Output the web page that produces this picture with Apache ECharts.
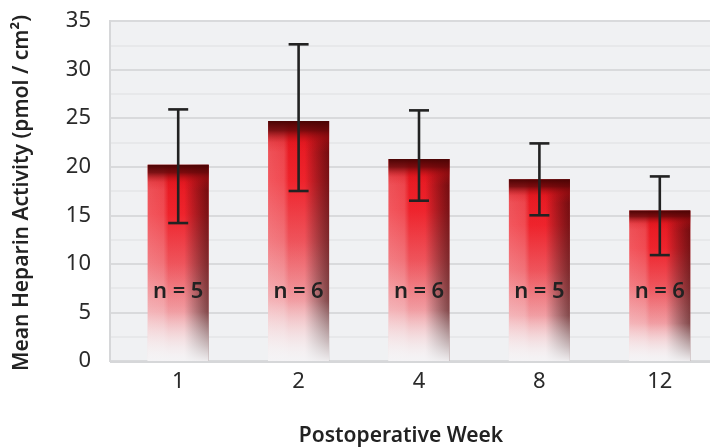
<!DOCTYPE html>
<html>
<head>
<meta charset="utf-8">
<script src="https://cdn.jsdelivr.net/npm/echarts@6/dist/echarts.min.js"></script>
<style>html,body{margin:0;padding:0;background:#fff;overflow:hidden;width:710px;height:448px}#c{width:720px;height:448px}</style>
</head>
<body>
<div id="c"></div>
<script>
const categories = ['1', '2', '4', '8', '12'];
const means = [20.2, 24.7, 20.8, 18.7, 15.5];
const errUpper = [25.9, 32.6, 25.8, 22.4, 19.0];
const errLower = [14.2, 17.5, 16.5, 15.0, 10.9];
const nLabels = ['n\u2005=\u20055', 'n\u2005=\u20056', 'n\u2005=\u20056', 'n\u2005=\u20055', 'n\u2005=\u20056'];
const yTicks = [0, 5, 10, 15, 20, 25, 30, 35];
const yTitle = 'Mean Heparin Activity (pmol / cm²)';
const xTitle = 'Postoperative Week';

const FONT = '"Noto Sans", sans-serif';
const chart = echarts.init(document.getElementById('c'), null, {renderer: 'canvas'});

const lg = (x, y, x2, y2, stops) => new echarts.graphic.LinearGradient(x, y, x2, y2, stops);

const barBase = {
  type: 'bar', data: means, barWidth: 61, barGap: '-100%', silent: true, xAxisIndex: 0, yAxisIndex: 0
};

const option = {
  animation: false,
  grid: [
    {left: 118, right: 0, top: 21, bottom: 87},
    {left: 110, right: 0, top: 21, bottom: 87, show: true, backgroundColor: '#f0f1f3', borderWidth: 0, z: -1}
  ],
  graphic: [
    {type: 'line', z: 10, shape: {x1: 110, y1: 20, x2: 110, y2: 362}, style: {stroke: '#d6d7d9', lineWidth: 2}},
    {type: 'line', z: 10, shape: {x1: 110, y1: 362, x2: 720, y2: 362}, style: {stroke: '#d6d7d9', lineWidth: 2}},
    {type: 'text', rotation: Math.PI / 2, x: 22, y: 193,
     style: {text: yTitle, font: '600 21px ' + FONT, fill: '#222', textAlign: 'center', textVerticalAlign: 'middle'}},
    {type: 'text', x: 401, y: 436,
     style: {text: xTitle, font: '600 21px ' + FONT, fill: '#222', textAlign: 'center', textVerticalAlign: 'middle'}}
  ],
  xAxis: [
    {
      type: 'category', data: categories, gridIndex: 0,
      axisLine: {show: false}, axisTick: {show: false},
      axisLabel: {fontSize: 22, color: '#2a2a2a', margin: 10, fontFamily: FONT}
    },
    {type: 'value', gridIndex: 1, show: false, splitLine: {show: false}}
  ],
  yAxis: [
    {
      type: 'value', min: 0, max: 35, interval: 5, gridIndex: 0,
      axisLine: {show: false}, axisTick: {show: false},
      axisLabel: {fontSize: 22, color: '#2a2a2a', margin: 27, fontFamily: FONT,
        formatter: v => yTicks.includes(v) ? String(v) : ''},
      splitLine: {show: false}
    },
    {
      type: 'value', min: 0, max: 35, interval: 5, gridIndex: 1,
      axisLine: {show: false}, axisTick: {show: false}, axisLabel: {show: false},
      splitLine: {lineStyle: {color: '#d9dadc', width: 2}},
      minorTick: {show: false, splitNumber: 2},
      minorSplitLine: {show: true, lineStyle: {color: '#e4e5e7', width: 1.5}}
    }
  ],
  series: [
    Object.assign({}, barBase, {
      itemStyle: {color: lg(0, 0, 0, 1, [
        {offset: 0, color: '#e3151d'},
        {offset: 0.25, color: '#ee1c25'},
        {offset: 0.5, color: '#ee4850'},
        {offset: 0.72, color: '#f08a90'},
        {offset: 0.88, color: '#f3c4c7'},
        {offset: 1, color: '#f5eff0'}
      ])}
    }),
    Object.assign({}, barBase, {
      itemStyle: {color: lg(0, 0, 1, 0, [
        {offset: 0, color: 'rgba(255,255,255,0.24)'},
        {offset: 0.26, color: 'rgba(255,255,255,0.18)'},
        {offset: 0.34, color: 'rgba(255,255,255,0)'},
        {offset: 0.6, color: 'rgba(0,0,0,0)'},
        {offset: 1, color: 'rgba(50,0,0,0.65)'}
      ])}
    }),
    Object.assign({}, barBase, {
      itemStyle: {color: lg(0, 0, 0, 1, [
        {offset: 0, color: 'rgba(244,243,245,0)'},
        {offset: 0.75, color: 'rgba(244,243,245,0.1)'},
        {offset: 0.92, color: 'rgba(244,243,245,0.65)'},
        {offset: 1, color: 'rgba(244,243,245,0.95)'}
      ])}
    }),
    Object.assign({}, barBase, {
      itemStyle: {color: lg(0, 0, 0, 1, [
        {offset: 0, color: 'rgba(75,4,4,1)'},
        {offset: 0.04, color: 'rgba(105,8,10,0.85)'},
        {offset: 0.09, color: 'rgba(200,16,22,0.2)'},
        {offset: 0.13, color: 'rgba(230,20,30,0)'},
        {offset: 1, color: 'rgba(230,20,30,0)'}
      ])},
      label: {
        show: true, position: 'insideBottom', distance: 58,
        formatter: p => nLabels[p.dataIndex],
        fontSize: 22, fontWeight: 600, color: '#222', fontFamily: FONT
      }
    }),
    {
      type: 'custom', silent: true, z: 5, xAxisIndex: 0, yAxisIndex: 0,
      data: categories.map((c, i) => [i, errLower[i], errUpper[i]]),
      renderItem: (params, api) => {
        const x = api.value(0);
        const lo = api.coord([x, api.value(1)]);
        const hi = api.coord([x, api.value(2)]);
        const hw = 10;
        const st = {stroke: '#222', lineWidth: 2.6};
        return {type: 'group', children: [
          {type: 'line', shape: {x1: lo[0], y1: lo[1], x2: hi[0], y2: hi[1]}, style: st},
          {type: 'line', shape: {x1: lo[0] - hw, y1: lo[1], x2: lo[0] + hw, y2: lo[1]}, style: st},
          {type: 'line', shape: {x1: hi[0] - hw, y1: hi[1], x2: hi[0] + hw, y2: hi[1]}, style: st}
        ]};
      }
    }
  ]
};
chart.setOption(option);
</script>
</body>
</html>
